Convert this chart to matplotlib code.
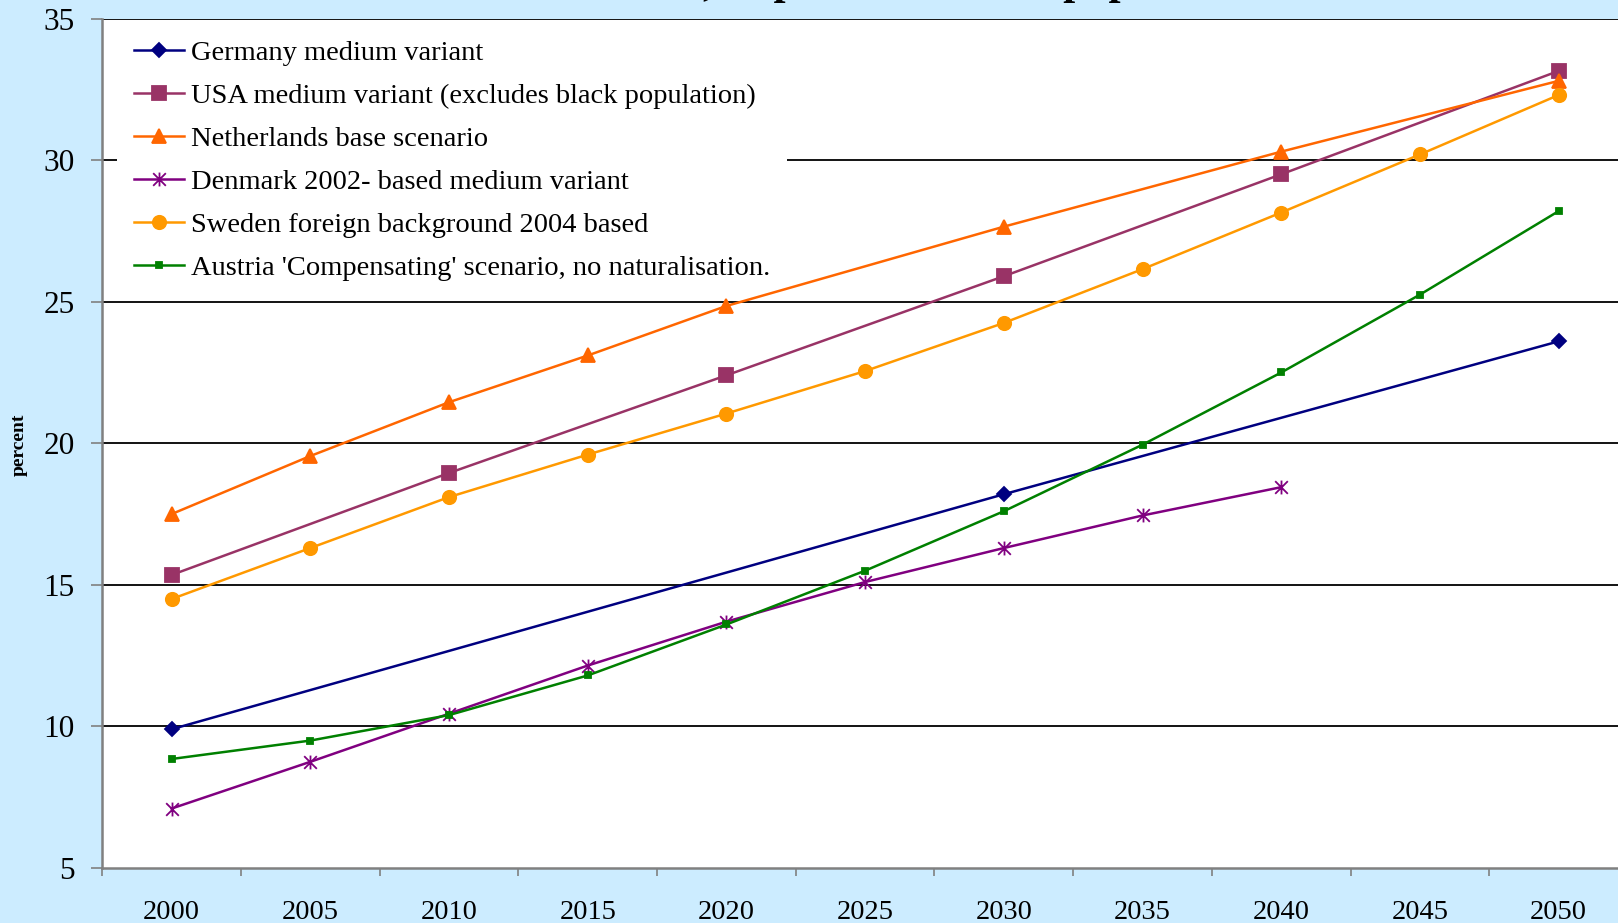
import numpy as np
import matplotlib
matplotlib.use('Agg')
import matplotlib.pyplot as plt
from matplotlib.path import Path

plt.rcParams['font.family'] = ['Liberation Serif', 'DejaVu Serif']

years = ['2000', '2005', '2010', '2015', '2020', '2025', '2030', '2035', '2040', '2045', '2050']

# values, None where a country has no point
germany = [9.9, None, None, None, None, None, 18.2, None, None, None, 23.6]
usa = [15.35, None, 18.95, None, 22.4, None, 25.9, None, 29.5, None, 33.15]
netherlands = [17.5, 19.55, 21.45, 23.1, 24.85, None, 27.65, None, 30.3, None, 32.8]
denmark = [7.1, 8.75, 10.45, 12.15, 13.7, 15.1, 16.3, 17.45, 18.45, None, None]
sweden = [14.5, 16.3, 18.1, 19.6, 21.05, 22.55, 24.25, 26.15, 28.15, 30.2, 32.3]
austria = [8.85, 9.5, 10.4, 11.8, 13.6, 15.5, 17.6, 19.95, 22.5, 25.25, 28.2]

labels = ['Germany medium variant',
          'USA medium variant (excludes black population)',
          'Netherlands base scenario',
          'Denmark 2002- based medium variant',
          'Sweden foreign background 2004 based',
          "Austria 'Compensating' scenario, no naturalisation."]

# excel style star marker: an x with a vertical bar
star = Path([(-1, -1), (1, 1), (-1, 1), (1, -1), (0, -1.1), (0, 1.1)],
            [Path.MOVETO, Path.LINETO, Path.MOVETO, Path.LINETO, Path.MOVETO, Path.LINETO])

series = [
    (germany, '#000080', 'D', 7.2),
    (usa, '#993366', 's', 9.6),
    (netherlands, '#FF6600', '^', 10.5),
    (denmark, '#800080', star, 10.0),
    (sweden, '#FF9900', 'o', 9.6),
    (austria, '#008000', 's', 4.8),
]

fig = plt.figure(figsize=(16.18, 9.23), dpi=100, facecolor='#CCECFF')
ax = fig.add_axes([0.0632, 0.0596, 0.943, 0.9203])
ax.set_facecolor('white')

for yv in [10, 15, 20, 25, 30, 35]:
    ax.axhline(yv, color='black', lw=1.3, zorder=1)

for (vals, col, mk, ms), lab in zip(series, labels):
    x = [i for i, v in enumerate(vals) if v is not None]
    y = [v for v in vals if v is not None]
    ax.plot(x, y, color=col, lw=1.8, marker=mk, markersize=ms,
            markerfacecolor=col, markeredgecolor=col, markeredgewidth=1.3,
            label=lab, zorder=3, clip_on=False)

ax.set_xlim(-0.5, len(years) - 0.5)
ax.set_ylim(5, 35)
ax.set_yticks([5, 10, 15, 20, 25, 30, 35])
ax.tick_params(axis='y', labelsize=22.5, length=8, width=1.2, color='#808080',
               pad=12, direction='out')
ax.set_xticks(range(len(years)))
ax.set_xticklabels(years)
ax.set_xticks(np.arange(-0.5, len(years), 1), minor=True)
ax.tick_params(axis='x', which='major', length=0, labelsize=20.5, pad=23)
ax.tick_params(axis='x', which='minor', length=6, width=1.2, color='#808080')

for s in ['top', 'right']:
    ax.spines[s].set_visible(False)
ax.spines['left'].set_color('#808080')
ax.spines['left'].set_linewidth(1.8)
ax.spines['bottom'].set_color('#808080')
ax.spines['bottom'].set_linewidth(1.8)

leg = ax.legend(loc='upper left', bbox_to_anchor=(0.0095, 0.995), fontsize=20.5,
                frameon=True, facecolor='white', edgecolor='none', framealpha=1,
                fancybox=False, handlelength=1.75, handletextpad=0.25,
                labelspacing=0.6, borderpad=0.6, borderaxespad=0)
# legend box hides the gridline but stays under the data lines
leg.set_zorder(2)

fig.text(0.012, 0.518, 'percent', rotation=90, fontsize=14, fontweight='bold',
         ha='center', va='center')

# title sits mostly above the picture, only descenders show
fig.text(0.441, 1.0063, 'All ethnic minorities,', fontsize=31, fontweight='bold',
         ha='right', va='baseline')
fig.text(0.441, 1.0063, ' as percent of total population', fontsize=31,
         fontweight='bold', ha='left', va='baseline')

fig.savefig('out.png', dpi=100, facecolor=fig.get_facecolor())
